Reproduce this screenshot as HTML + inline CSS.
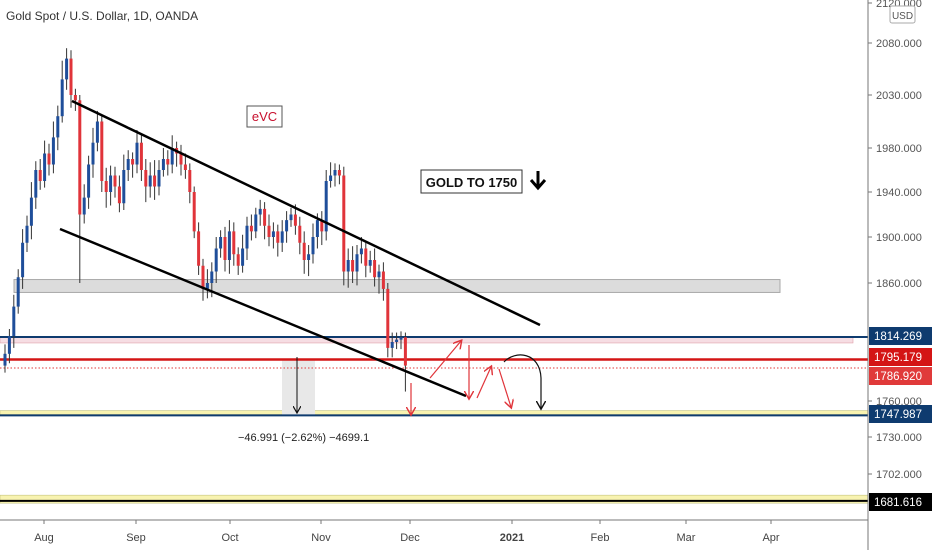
<!DOCTYPE html>
<html><head><meta charset="utf-8"><style>
body{margin:0;width:932px;height:550px;overflow:hidden;background:#fff;font-family:"Liberation Sans",sans-serif}
svg{display:block}
</style></head><body>
<svg id="chart" width="932" height="550">
<text x="6" y="20" font-size="12" fill="#333">Gold Spot / U.S. Dollar, 1D, OANDA</text>
<g id="bands"></g>
<g id="candles"></g>
<g id="drawings"></g>
<g id="axes"></g>
</svg>
<script>
const ticks=[2120,2080,2030,1980,1940,1900,1860,1760,1730,1702];
const tickY=[3,43,95,148,192,237,283,401,437,474];
const months=["Aug","Sep","Oct","Nov","Dec","2021","Feb","Mar","Apr"];
const monthX=[44,136,230,321,410,512,600,686,771];
const closes=[1800,1815,1840,1865,1895,1910,1935,1960,1950,1975,1965,1990,2010,2045,2065,2030,2025,1920,1935,1965,1985,2005,1950,1940,1955,1945,1930,1960,1970,1965,1985,1960,1945,1955,1945,1960,1970,1965,1980,1975,1965,1960,1940,1905,1875,1855,1860,1870,1890,1900,1880,1905,1885,1875,1890,1910,1905,1920,1925,1910,1900,1905,1895,1905,1915,1920,1910,1895,1880,1885,1900,1915,1905,1950,1955,1960,1955,1870,1880,1870,1885,1890,1875,1880,1865,1870,1855,1805,1810,1812,1814,1790];
const wickHi=[8,6,10,7,12,9,14,8,10,12,9,15,10,18,10,8,6,5,12,8,14,10,6,12,9,8,10,14,8,6,12,8,10,12,14,9,10,8,12,6,8,10,6,5,8,6,12,8,10,6,9,10,8,6,12,8,10,6,8,6,10,8,6,10,8,6,9,8,10,8,12,6,8,10,12,6,5,8,10,12,8,10,6,8,10,6,8,5,8,6,5,4];
const wickLo=[6,8,10,6,10,8,12,10,8,6,10,8,12,6,10,12,10,60,8,10,12,8,10,14,12,10,8,6,10,12,8,10,14,10,12,8,6,10,8,12,10,8,10,6,8,10,8,12,10,8,10,12,10,8,6,10,8,6,10,12,8,10,12,8,10,6,8,10,12,14,8,10,12,8,6,10,8,12,14,10,12,8,10,6,8,14,10,8,8,6,8,22];
const hLines=[1814.269,1795.179,1786.92,1747.987,1681.616];
const hLabels=["1814.269","1795.179","1786.920","1747.987","1681.616"];
const hColors=["#0e3b6f","#d41515","#e03a3a","#0e3b6f","#000"];
const measureText="\u221246.991 (\u22122.62%) \u22124699.1";

function y(p){
  for(let i=0;i<ticks.length-1;i++){
    if(p<=ticks[i]&&p>=ticks[i+1]) return tickY[i]+(ticks[i]-p)/(ticks[i]-ticks[i+1])*(tickY[i+1]-tickY[i]);
  }
  if(p>ticks[0]) return tickY[0]-(p-ticks[0])*(tickY[1]-tickY[0])/(ticks[0]-ticks[1]);
  const n=ticks.length-1;
  return tickY[n]+(ticks[n]-p)*(tickY[n]-tickY[n-1])/(ticks[n-1]-ticks[n]);
}
function x(i){return 5+i*4.4;}
const NS="http://www.w3.org/2000/svg";
function mk(tag,attrs,parent,txt){const e=document.createElementNS(NS,tag);for(const k in attrs)e.setAttribute(k,attrs[k]);if(txt!==undefined)e.textContent=txt;document.getElementById(parent).appendChild(e);return e;}

// bands
let e;
e=mk('rect',{x:14,y:y(1863),width:766,height:y(1852)-y(1863),fill:"#dcdcdc",stroke:"#a8a8a8"},'bands');


e=mk('rect',{x:0,y:y(1814.269),width:853,height:6,fill:"#f6dde3",stroke:"#e0a0a8","stroke-width":0.6},'bands');


e=mk('rect',{x:0,y:y(1752),width:868,height:4,fill:"#f8f3b0",stroke:"#b8b870","stroke-width":0.5},'bands');


e=mk('rect',{x:0,y:y(1686),width:868,height:8,fill:"#f8f3b0",stroke:"#b8b870","stroke-width":0.5},'bands');


e=mk('rect',{x:282,y:y(1795.179),width:33,height:y(1747.987)-y(1795.179),fill:"#e8e8e8"},'bands');



// horizontal lines
const lw=[2,2.5,1,2,2];
hLines.forEach((p,i)=>{
  const l=mk('line',{x1:0,x2:868,y1:y(p),y2:y(p),stroke:hColors[i],"stroke-width":lw[i]},'bands');
  if(i==2){l.setAttribute('stroke-dasharray','1.5 2');l.setAttribute('y1',368);l.setAttribute('y2',368);}
  
  
});

// candles
let prev=1790;
closes.forEach((c,i)=>{
  const o=prev;prev=c;
  const up=c>=o,col=up?"#1f4e9a":"#e0343a";
  const hi=Math.max(o,c)+wickHi[i],lo=Math.min(o,c)-wickLo[i];
  const w=mk('line',{x1:x(i),x2:x(i),y1:y(hi),y2:y(lo),stroke:"#333","stroke-width":1},'candles');
  
  
  const top=y(Math.max(o,c)),bot=y(Math.min(o,c));
  const b=mk('rect',{x:x(i)-1.5,y:top,width:3,height:Math.max(1,bot-top),fill:col},'candles');
  
  
});

// drawings
const d=document.getElementById('drawings');
d.innerHTML=`
<defs><marker id="ar" markerWidth="8" markerHeight="8" refX="6" refY="4" orient="auto"><path d="M0,0 L7,4 L0,8" fill="none" stroke="#e0343a" stroke-width="1.2"/></marker>
<marker id="ab" markerWidth="8" markerHeight="8" refX="6" refY="4" orient="auto"><path d="M0,0 L7,4 L0,8" fill="none" stroke="#111" stroke-width="1.2"/></marker></defs>
<line x1="72" y1="101" x2="540" y2="325" stroke="#000" stroke-width="2.5"/>
<line x1="60" y1="229" x2="466" y2="396" stroke="#000" stroke-width="2.5"/>
<line x1="297" y1="357" x2="297" y2="412" stroke="#111" stroke-width="1" marker-end="url(#ab)"/>
<text x="238" y="441" font-size="11" fill="#222">${measureText}</text>
<g stroke="#e0343a" stroke-width="1.2" fill="none">
<line x1="411" y1="383" x2="411" y2="414" marker-end="url(#ar)"/>
<line x1="430" y1="378" x2="461" y2="341" marker-end="url(#ar)"/>
<line x1="469" y1="345" x2="469" y2="398" marker-end="url(#ar)"/>
<line x1="477" y1="398" x2="491" y2="367" marker-end="url(#ar)"/>
<line x1="499" y1="369" x2="511" y2="407" marker-end="url(#ar)"/>
</g>
<path d="M504,362 C515,350 540,352 541,378 L541,408" stroke="#111" stroke-width="1.2" fill="none" marker-end="url(#ab)"/>
<g><rect x="247" y="106" width="35" height="21" fill="#fff" stroke="#555"/><text x="264.5" y="121" font-size="13" fill="#c8102e" text-anchor="middle">eVC</text></g>
<g><rect x="421" y="170" width="101" height="23" fill="#fff" stroke="#333"/><text x="471.5" y="187" font-size="13" font-weight="bold" fill="#111" text-anchor="middle">GOLD TO 1750</text>
<path d="M538,171 L538,186 M531,180 L538,188 L545,180" stroke="#000" stroke-width="3" fill="none"/></g>`;

// axes
const ax=document.getElementById('axes');
e=mk('line',{x1:868,x2:868,y1:0,y2:550,stroke:"#777","stroke-width":1},'axes');


e=mk('line',{x1:0,x2:868,y1:520,y2:520,stroke:"#777","stroke-width":1},'axes');


ticks.forEach((t,i)=>{
  const ty=y(t);
  const tk=mk('line',{x1:868,x2:872,y1:ty,y2:ty,stroke:"#777"},'axes');
  
  
  const tl=mk('text',{x:876,y:ty+4,"font-size":11,fill:"#555"},'axes',t.toFixed(3));
  
  
});
months.forEach((m,i)=>{
  const tk=mk('line',{x1:monthX[i],x2:monthX[i],y1:520,y2:524,stroke:"#777"},'axes');
  
  
  const tl=mk('text',{x:monthX[i],y:541,"font-size":11,fill:"#444","text-anchor":"middle","font-weight":m=="2021"?"bold":"normal"},'axes',m);
  
  
});
const labY=[336,357,376,414,502];
hLabels.forEach((s,i)=>{
  const r=mk('rect',{x:869,y:labY[i]-9,width:63,height:18,fill:hColors[i]},'axes');
  
  
  const t=mk('text',{x:874,y:labY[i]+4,"font-size":11.5,fill:"#fff"},'axes',s);
  
  
});
e=mk('rect',{x:890,y:6,width:25,height:17,fill:"#fff",stroke:"#aaa",rx:2},'axes');


e=mk('text',{x:902.5,y:19,"font-size":10,fill:"#555","text-anchor":"middle"},'axes',"USD");


</script>
</body></html>
